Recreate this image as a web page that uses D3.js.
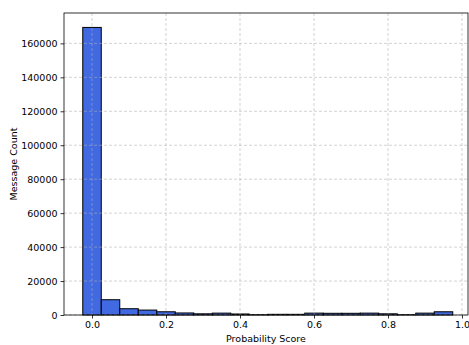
<!DOCTYPE html>
<html>
<head>
<meta charset="utf-8">
<script src="https://cdn.jsdelivr.net/npm/d3@7"></script>
<style>
  body { margin: 0; background: #fff; }
  svg text { font-family: "DejaVu Sans", sans-serif; }
</style>
</head>
<body>
<div id="chart"></div>
<script>
// histogram bins (left edges), width 0.05
const binStarts = [-0.025, 0.025, 0.075, 0.125, 0.175, 0.225, 0.275, 0.325, 0.375, 0.425,
                   0.475, 0.525, 0.575, 0.625, 0.675, 0.725, 0.775, 0.825, 0.875, 0.925];
const binWidth = 0.05;
const counts = [169400, 9000, 3700, 2900, 1900, 1200, 700, 1100, 600, 200,
                400, 400, 1100, 1000, 1000, 1100, 700, 200, 1100, 1900];
const xTicks = [0.0, 0.2, 0.4, 0.6, 0.8, 1.0];
const yTicks = [0, 20000, 40000, 60000, 80000, 100000, 120000, 140000, 160000];

let width = 469;
let height = 345;
let margin = {left: 64, right: 1, top: 13, bottom: 30};

let svg = d3.select("#chart")
    .append("svg")
    .attr("width", width)
    .attr("height", height);

let scaleX = d3.scaleLinear()
    .domain([-0.0757, 1.0162])
    .range([margin.left, width - margin.right]);

let scaleY = d3.scaleLinear()
    .domain([0, 177900])
    .range([height - margin.bottom, margin.top]);

// bars
svg.append("g")
    .selectAll("rect")
    .data(binStarts)
    .join("rect")
    .attr("x", d => scaleX(d))
    .attr("width", d => scaleX(d + binWidth) - scaleX(d))
    .attr("y", (d, i) => scaleY(counts[i]))
    .attr("height", (d, i) => scaleY(0) - scaleY(counts[i]))
    .attr("fill", "#4169e1")
    .attr("stroke", "black")
    .attr("stroke-width", 1);

// grid on top
let grid = svg.append("g")
    .attr("stroke", "#b0b0b0")
    .attr("stroke-opacity", 0.7)
    .attr("stroke-dasharray", "3,2")
    .attr("stroke-width", 0.8);

grid.selectAll(".gx")
    .data(xTicks)
    .join("line")
    .attr("x1", d => scaleX(d))
    .attr("x2", d => scaleX(d))
    .attr("y1", margin.top)
    .attr("y2", height - margin.bottom);

grid.selectAll(".gy")
    .data(yTicks)
    .join("line")
    .attr("x1", margin.left)
    .attr("x2", width - margin.right)
    .attr("y1", d => scaleY(d))
    .attr("y2", d => scaleY(d));

// axes
let xAxis = svg.append("g")
    .attr("transform", "translate(0," + (height - margin.bottom) + ")")
    .call(d3.axisBottom(scaleX).tickValues(xTicks).tickFormat(d3.format(".1f")).tickSize(3.5).tickPadding(3));

let yAxis = svg.append("g")
    .attr("transform", "translate(" + margin.left + ",0)")
    .call(d3.axisLeft(scaleY).tickValues(yTicks).tickFormat(d3.format("d")).tickSize(3.5).tickPadding(3));

[xAxis, yAxis].forEach(a => {
    a.select(".domain").remove();
    a.selectAll("text").attr("font-size", 9.5).attr("fill", "#000").style("font-family", "DejaVu Sans");
    a.selectAll("line").attr("stroke", "#000").attr("stroke-width", 0.8);
});

// frame
svg.append("rect")
    .attr("x", margin.left)
    .attr("y", margin.top)
    .attr("width", width - margin.right - margin.left)
    .attr("height", height - margin.bottom - margin.top)
    .attr("fill", "none")
    .attr("stroke", "#000")
    .attr("stroke-width", 0.8);

svg.append("text")
    .attr("x", (margin.left + width - margin.right) / 2)
    .attr("y", 342)
    .attr("text-anchor", "middle")
    .attr("font-size", 9.5)
    .text("Probability Score");

svg.append("text")
    .attr("transform", "translate(17," + ((margin.top + height - margin.bottom) / 2) + ") rotate(-90)")
    .attr("text-anchor", "middle")
    .attr("font-size", 9.5)
    .text("Message Count");
</script>
</body>
</html>
